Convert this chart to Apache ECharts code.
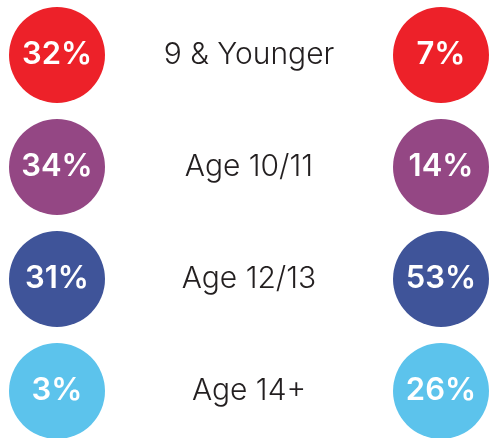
<!DOCTYPE html>
<html>
<head>
<meta charset="utf-8">
<script src="https://cdn.jsdelivr.net/npm/echarts@6/dist/echarts.min.js"></script>
<style>
  html, body { margin: 0; padding: 0; background: #fff; }
  #main { width: 489px; height: 438px; }
</style>
</head>
<body>
<div id="main"></div>
<script>
// rows top to bottom
const ageGroups = ["9 & Younger", "Age 10/11", "Age 12/13", "Age 14+"];
const leftValues = [32, 34, 31, 3];
const rightValues = [7, 14, 53, 26];
const rowColors = ["#ED2129", "#944784", "#3F5499", "#5CC3EC"];
const columns = ["left", "label", "right"];

let chart = echarts.init(document.getElementById("main"));

function circleData(values, col) {
  return values.map((v, i) => ({
    value: [col, i, v],
    itemStyle: { color: rowColors[i], opacity: 1 },
  }));
}

const pctLabel = {
  show: true,
  position: "inside",
  formatter: (p) => p.value[2] + "%",
  color: "#fff",
  fontSize: 31,
  fontWeight: 600,
  fontFamily: "Inter",
};

let option = {
  animation: false,
  grid: { left: 57, right: 48, top: 55, bottom: 47 },
  xAxis: {
    type: "category",
    data: columns,
    boundaryGap: false,
    show: false,
  },
  yAxis: {
    type: "category",
    data: ageGroups,
    boundaryGap: false,
    inverse: true,
    show: false,
  },
  series: [
    {
      name: "left",
      type: "scatter",
      symbolSize: 96,
      data: circleData(leftValues, 0),
      label: pctLabel,
    },
    {
      name: "right",
      type: "scatter",
      symbolSize: 96,
      data: circleData(rightValues, 2),
      label: pctLabel,
    },
    {
      name: "ages",
      type: "scatter",
      symbolSize: 1,
      itemStyle: { color: "rgba(0,0,0,0)", opacity: 1 },
      data: ageGroups.map((a, i) => [1, i]),
      label: {
        show: true,
        position: "inside",
        formatter: (p) => ageGroups[p.value[1]],
        color: "#231F20",
        fontSize: 30,
        fontFamily: "Inter",
        fontWeight: 300,
      },
    },
  ],
};

chart.setOption(option);
</script>
</body>
</html>
